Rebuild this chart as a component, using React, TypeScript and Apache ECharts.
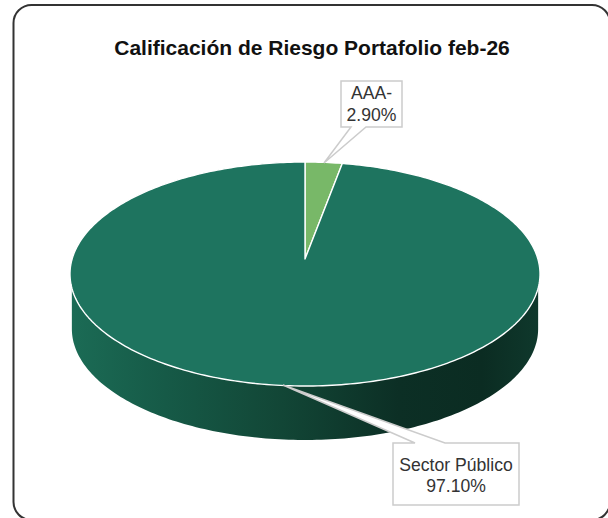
import React, { useEffect, useRef } from "react";
import * as echarts from "echarts";

const title = "Calificación de Riesgo Portafolio feb-26";
const categories = ["AAA-", "Sector Público"];
const shares = [2.9, 97.1];
const sliceColors = ["#78b868", "#1e745f"];

// Projection of the tilted disc: a unit circle seen in perspective.
const APEX_X = 305;
const APEX_Y = 259;
const RADIUS_X = 232.9;
const RADIUS_Y = 110;
const PERSPECTIVE = 0.134;
const DEPTH = 55;
const FLOOR_SCALE = 0.992;
const STEP = Math.PI / 180;
const DEG = Math.PI / 180;

// Angles (clockwise from the top) where the wall meets the rim and the floor.
const RIM_START = 104.8 * DEG;
const FLOOR_START = 97.7 * DEG;

function project(angle: number, scale = 1, drop = 0): number[] {
  const w = 1 + PERSPECTIVE * Math.cos(angle);
  return [
    APEX_X + (scale * RADIUS_X * Math.sin(angle)) / w,
    APEX_Y + drop - (scale * RADIUS_Y * Math.cos(angle)) / w,
  ];
}

function arcPoints(start: number, end: number, scale = 1, drop = 0): number[][] {
  const count = Math.max(2, Math.ceil(Math.abs(end - start) / STEP));
  const points: number[][] = [];
  for (let i = 0; i <= count; i++) {
    points.push(project(start + ((end - start) * i) / count, scale, drop));
  }
  return points;
}

const total = shares.reduce((sum, v) => sum + v, 0);

function renderSlice(params: any, api: any) {
  const index = params.dataIndex;
  const before = shares.slice(0, index).reduce((sum, v) => sum + v, 0);
  const start = (before / total) * Math.PI * 2;
  const end = ((before + api.value(0)) / total) * Math.PI * 2;
  const children: any[] = [];

  // The wall is only visible on the front half of the disc.
  const full = Math.PI * 2;
  const rimFrom = Math.max(start, RIM_START);
  const rimTo = Math.min(end, full - RIM_START);
  if (rimTo > rimFrom) {
    const rim = arcPoints(rimFrom, rimTo);
    const floor = arcPoints(Math.max(start, FLOOR_START), Math.min(end, full - FLOOR_START), FLOOR_SCALE, DEPTH).reverse();
    children.push({
      type: "polygon",
      shape: { points: rim.concat(floor) },
      style: {
        fill: new echarts.graphic.LinearGradient(1, 0, 0, 0, [
          { offset: 0, color: "#0f382c" },
          { offset: 0.12, color: "#0b2c22" },
          { offset: 0.3, color: "#0c2f25" },
          { offset: 0.55, color: "#124636" },
          { offset: 0.8, color: "#165a47" },
          { offset: 1, color: "#1b6b55" },
        ]),
      },
    });
  }

  const top = [[APEX_X, APEX_Y]].concat(arcPoints(start, end));
  children.push({
    type: "polygon",
    shape: { points: top },
    style: { fill: api.visual("color"), stroke: "#ffffff", lineWidth: 1.4, lineJoin: "round" },
  });
  return { type: "group", children };
}

function callout(points: number[][], lines: string[], cx: number, cy: number) {
  return [
    {
      type: "polygon",
      z: 10,
      shape: { points },
      style: { fill: "#ffffff", stroke: "#cccccc", lineWidth: 1.5 },
    },
    {
      type: "text",
      z: 11,
      x: cx,
      y: cy,
      style: {
        text: lines.join("\n"),
        fontFamily: "Liberation Sans",
        fontSize: 17.6,
        lineHeight: 21.5,
        fill: "#333333",
        align: "center",
        verticalAlign: "middle",
      },
    },
  ];
}

const formatShare = (v: number) => `${v.toFixed(2)}%`;

export default function App() {
  const ref = useRef<HTMLDivElement>(null);

  useEffect(() => {
    document.body.style.margin = "0";
    const chart = echarts.init(ref.current!, null, { renderer: "svg" });
    chart.setOption({
      animation: false,
      backgroundColor: "#ffffff",
      title: {
        text: title,
        left: 307,
        top: 32,
        textAlign: "center",
        textStyle: {
          fontFamily: "Liberation Sans",
          fontSize: 21,
          fontWeight: "bold",
          color: "#111111",
        },
      },
      graphic: [
        {
          type: "rect",
          z: -1,
          shape: { x: 13.5, y: 5, width: 596.5, height: 515, r: 18 },
          style: { fill: "#ffffff", stroke: "#333333", lineWidth: 2 },
        },
        ...callout(
          [[341, 81], [402, 81], [402, 127], [366, 127], [324, 163], [351, 127], [341, 127]],
          [categories[0], formatShare(shares[0])],
          371.5,
          104
        ),
        ...callout(
          [[393, 443], [415, 443], [283, 385], [445, 443], [519, 443], [519, 505], [393, 505]],
          [categories[1], formatShare(shares[1])],
          456,
          475.5
        ),
      ],
      series: [
        {
          type: "custom",
          coordinateSystem: "none",
          renderItem: renderSlice,
          silent: true,
          data: shares.map((value, i) => ({
            name: categories[i],
            value: [value],
            itemStyle: { color: sliceColors[i] },
          })),
        },
      ],
    });
    return () => chart.dispose();
  }, []);

  return <div ref={ref} style={{ width: 608, height: 518 }} />;
}
